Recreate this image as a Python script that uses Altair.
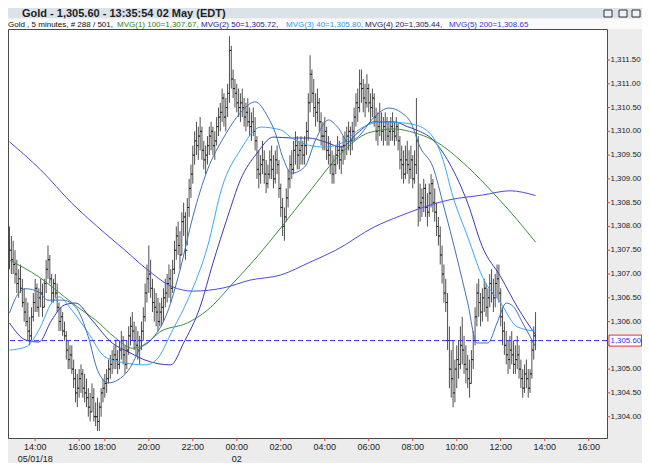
import altair as alt
import pandas as pd

# ---------------- data ----------------
bar_high = [1308.0,
    1307.8, 1307.7, 1307.5, 1307.3, 1307.1, 1307.2, 1306.9, 1306.7, 1306.5, 1306.4,
    1306.1, 1306.3, 1306.6, 1306.9, 1306.8, 1306.7, 1306.9, 1306.8, 1306.9, 1307.3,
    1307.6, 1307.4, 1307.0, 1306.9, 1307.0, 1306.8, 1306.4, 1306.3, 1306.2, 1306.0,
    1305.8, 1305.6, 1305.5, 1305.5, 1305.2, 1305.0, 1304.9, 1305.0, 1305.1, 1305.0,
    1304.9, 1304.8, 1304.6, 1304.5, 1304.7, 1304.6, 1304.3, 1304.4, 1304.3, 1304.6,
    1304.8, 1304.9, 1305.0, 1305.2, 1305.3, 1305.4, 1305.5, 1305.6, 1305.4, 1305.6,
    1305.8, 1305.7, 1305.5, 1305.6, 1305.9, 1306.1, 1306.2, 1306.0, 1305.9, 1305.8,
    1305.7, 1306.0, 1306.3, 1306.8, 1307.2, 1307.6, 1307.3, 1306.9, 1306.7, 1306.6,
    1306.5, 1306.4, 1306.5, 1306.7, 1306.9, 1307.0, 1307.2, 1307.1, 1307.3, 1307.7,
    1308.0, 1308.1, 1307.9, 1308.3, 1308.5, 1308.3, 1308.6, 1309.0, 1309.3, 1309.7,
    1310.0, 1310.2, 1310.1, 1310.3, 1310.1, 1309.8, 1309.7, 1309.9, 1310.1, 1310.2,
    1310.1, 1310.0, 1310.3, 1310.5, 1310.6, 1310.9, 1310.8, 1310.7, 1311.0, 1312.0,
    1311.8, 1311.3, 1311.1, 1311.0, 1310.9, 1310.8, 1310.9, 1310.7, 1310.6, 1310.7,
    1310.5, 1310.4, 1310.5, 1310.3, 1309.9, 1309.6, 1309.5, 1309.8, 1309.6, 1309.4,
    1309.3, 1309.6, 1309.7, 1309.5, 1309.6, 1309.7, 1309.4, 1308.9, 1308.6, 1308.4,
    1308.8, 1309.2, 1309.5, 1309.6, 1309.8, 1310.0, 1309.9, 1309.8, 1309.9, 1309.8,
    1309.9, 1310.2, 1310.8, 1311.6, 1311.3, 1311.1, 1310.8, 1310.9, 1310.7, 1310.4,
    1310.2, 1310.3, 1310.1, 1309.9, 1309.8, 1309.6, 1309.5, 1309.7, 1309.9, 1309.8,
    1309.7, 1309.9, 1310.0, 1310.1, 1310.2, 1310.1, 1310.2, 1310.5, 1310.8, 1310.9,
    1311.3, 1311.3, 1311.1, 1311.0, 1311.2, 1311.0, 1310.8, 1310.9, 1310.8, 1310.5,
    1310.4, 1310.6, 1310.4, 1310.3, 1310.4, 1310.3, 1310.2, 1310.3, 1310.4, 1310.2,
    1310.3, 1310.2, 1309.9, 1309.7, 1309.6, 1309.7, 1309.8, 1309.6, 1309.7, 1309.5,
    1309.6, 1310.7, 1309.9, 1308.9, 1308.8, 1309.0, 1308.9, 1308.7, 1308.9, 1309.1,
    1309.0, 1308.8, 1308.5, 1308.2, 1308.0, 1307.6, 1307.2, 1306.9, 1306.6, 1305.9,
    1305.4, 1305.6, 1305.2, 1305.5, 1305.6, 1305.9, 1306.1, 1305.7, 1305.5, 1305.3,
    1305.2, 1305.4, 1305.8, 1306.3, 1306.8, 1306.9, 1306.6, 1306.7, 1306.9, 1306.8,
    1306.7, 1307.0, 1307.1, 1306.9, 1307.0, 1307.2, 1307.2, 1306.7, 1306.3, 1306.0,
    1305.8, 1305.6, 1305.7, 1305.8, 1305.6, 1305.5, 1305.7, 1305.5, 1305.2, 1305.0,
    1305.1, 1305.2, 1305.0, 1305.0, 1305.6, 1305.9, 1306.2]

bar_low = [1307.1,
    1307.0, 1307.0, 1306.8, 1306.6, 1306.5, 1306.6, 1306.3, 1306.0, 1305.9, 1305.6,
    1305.5, 1305.6, 1306.0, 1306.2, 1306.2, 1306.1, 1306.3, 1306.1, 1306.3, 1306.6,
    1306.9, 1306.8, 1306.4, 1306.4, 1306.5, 1306.2, 1305.8, 1305.8, 1305.7, 1305.6,
    1305.2, 1305.0, 1305.0, 1304.9, 1304.6, 1304.3, 1304.2, 1304.4, 1304.5, 1304.4,
    1304.3, 1304.2, 1304.0, 1303.9, 1304.1, 1303.9, 1303.8, 1303.7, 1303.7, 1304.0,
    1304.3, 1304.4, 1304.5, 1304.7, 1304.8, 1304.9, 1305.0, 1305.0, 1304.9, 1305.0,
    1305.2, 1305.1, 1304.9, 1305.0, 1305.3, 1305.5, 1305.6, 1305.4, 1305.3, 1305.2,
    1305.1, 1305.4, 1305.6, 1306.0, 1306.4, 1306.6, 1306.5, 1306.2, 1306.0, 1305.9,
    1305.8, 1305.9, 1305.9, 1306.0, 1306.3, 1306.4, 1306.5, 1306.4, 1306.6, 1307.0,
    1307.3, 1307.4, 1307.1, 1307.4, 1307.8, 1307.3, 1307.6, 1308.2, 1308.6, 1308.9,
    1309.3, 1309.5, 1309.4, 1309.6, 1309.4, 1309.2, 1309.1, 1309.3, 1309.5, 1309.6,
    1309.5, 1309.4, 1309.7, 1309.9, 1310.0, 1310.2, 1310.1, 1310.0, 1310.3, 1310.6,
    1310.9, 1310.7, 1310.5, 1310.4, 1310.3, 1310.2, 1310.3, 1310.1, 1310.0, 1310.1,
    1309.9, 1309.8, 1309.9, 1309.6, 1309.0, 1308.8, 1308.9, 1309.1, 1308.9, 1308.7,
    1308.8, 1309.0, 1309.0, 1308.8, 1308.9, 1309.1, 1308.6, 1308.2, 1307.8, 1307.7,
    1308.1, 1308.4, 1308.8, 1309.0, 1309.1, 1309.3, 1309.2, 1309.2, 1309.3, 1309.3,
    1309.3, 1309.5, 1309.8, 1310.4, 1310.6, 1310.3, 1310.1, 1310.2, 1310.0, 1309.7,
    1309.6, 1309.6, 1309.4, 1309.3, 1309.1, 1308.9, 1308.9, 1309.1, 1309.3, 1309.2,
    1309.1, 1309.3, 1309.4, 1309.5, 1309.6, 1309.5, 1309.6, 1309.8, 1310.1, 1310.2,
    1310.4, 1310.6, 1310.4, 1310.3, 1310.5, 1310.4, 1310.2, 1310.3, 1310.1, 1309.8,
    1309.7, 1309.9, 1309.8, 1309.7, 1309.8, 1309.7, 1309.7, 1309.8, 1309.8, 1309.7,
    1309.8, 1309.6, 1309.2, 1309.0, 1308.9, 1309.0, 1309.1, 1308.9, 1309.0, 1308.8,
    1308.9, 1309.1, 1308.0, 1308.1, 1308.2, 1308.3, 1308.2, 1308.0, 1308.2, 1308.4,
    1308.3, 1308.1, 1307.8, 1307.6, 1307.2, 1306.8, 1306.4, 1306.2, 1305.4, 1304.6,
    1304.4, 1304.2, 1304.3, 1304.6, 1304.8, 1305.0, 1305.1, 1304.9, 1304.7, 1304.6,
    1304.4, 1304.7, 1305.0, 1305.5, 1305.9, 1306.1, 1305.9, 1306.0, 1306.2, 1306.1,
    1306.0, 1306.3, 1306.4, 1306.2, 1306.3, 1306.5, 1306.4, 1305.9, 1305.5, 1305.3,
    1305.1, 1304.9, 1305.0, 1305.1, 1304.9, 1304.9, 1305.0, 1304.8, 1304.6, 1304.4,
    1304.5, 1304.6, 1304.4, 1304.5, 1304.8, 1305.2, 1305.4]

bar_close = [1307.5,
    1307.3, 1307.2, 1307.0, 1306.8, 1306.9, 1306.7, 1306.4, 1306.2, 1306.0, 1305.8,
    1305.7, 1306.1, 1306.4, 1306.7, 1306.3, 1306.5, 1306.6, 1306.3, 1306.8, 1307.1,
    1307.3, 1306.9, 1306.6, 1306.8, 1306.6, 1306.3, 1306.0, 1306.1, 1305.8, 1305.7,
    1305.4, 1305.2, 1305.3, 1305.0, 1304.8, 1304.5, 1304.6, 1304.8, 1304.9, 1304.6,
    1304.5, 1304.4, 1304.2, 1304.1, 1304.4, 1304.0, 1304.0, 1303.9, 1304.2, 1304.5,
    1304.6, 1304.7, 1304.8, 1305.0, 1305.1, 1305.2, 1305.3, 1305.2, 1305.1, 1305.4,
    1305.6, 1305.3, 1305.1, 1305.4, 1305.7, 1305.9, 1305.8, 1305.6, 1305.5, 1305.4,
    1305.6, 1305.8, 1306.1, 1306.6, 1306.9, 1307.0, 1306.7, 1306.4, 1306.3, 1306.2,
    1306.0, 1306.2, 1306.3, 1306.5, 1306.6, 1306.8, 1306.9, 1306.7, 1307.1, 1307.5,
    1307.8, 1307.6, 1307.4, 1308.1, 1308.2, 1307.5, 1308.4, 1308.8, 1309.1, 1309.5,
    1309.8, 1309.7, 1309.9, 1310.0, 1309.6, 1309.4, 1309.5, 1309.7, 1309.9, 1310.0,
    1309.7, 1309.8, 1310.1, 1310.3, 1310.4, 1310.7, 1310.3, 1310.5, 1310.8, 1311.7,
    1311.1, 1310.9, 1310.8, 1310.6, 1310.5, 1310.6, 1310.5, 1310.3, 1310.4, 1310.2,
    1310.1, 1310.2, 1310.0, 1309.8, 1309.2, 1309.1, 1309.3, 1309.4, 1309.1, 1308.9,
    1309.1, 1309.4, 1309.2, 1309.0, 1309.4, 1309.3, 1308.8, 1308.4, 1308.0, 1308.2,
    1308.6, 1309.0, 1309.3, 1309.2, 1309.6, 1309.7, 1309.5, 1309.6, 1309.7, 1309.5,
    1309.7, 1310.0, 1310.6, 1311.2, 1310.8, 1310.5, 1310.4, 1310.6, 1310.2, 1309.9,
    1309.9, 1310.0, 1309.6, 1309.5, 1309.3, 1309.1, 1309.3, 1309.5, 1309.6, 1309.4,
    1309.6, 1309.7, 1309.8, 1309.9, 1310.0, 1309.8, 1310.0, 1310.3, 1310.6, 1310.5,
    1311.0, 1310.9, 1310.7, 1310.6, 1310.9, 1310.6, 1310.5, 1310.7, 1310.3, 1310.0,
    1310.1, 1310.2, 1310.0, 1310.1, 1310.2, 1309.9, 1310.0, 1310.1, 1310.0, 1309.9,
    1310.1, 1309.8, 1309.4, 1309.3, 1309.1, 1309.4, 1309.3, 1309.2, 1309.4, 1309.0,
    1309.3, 1309.8, 1308.4, 1308.5, 1308.6, 1308.8, 1308.4, 1308.3, 1308.7, 1308.9,
    1308.5, 1308.3, 1308.0, 1307.8, 1307.4, 1307.0, 1306.6, 1306.4, 1305.6, 1305.0,
    1304.8, 1304.5, 1305.0, 1305.2, 1305.1, 1305.5, 1305.4, 1305.1, 1305.0, 1304.8,
    1304.7, 1305.2, 1305.6, 1306.1, 1306.6, 1306.4, 1306.2, 1306.5, 1306.7, 1306.3,
    1306.5, 1306.8, 1306.6, 1306.5, 1306.8, 1306.9, 1306.6, 1306.1, 1305.8, 1305.5,
    1305.3, 1305.2, 1305.4, 1305.3, 1305.1, 1305.2, 1305.3, 1305.0, 1304.8, 1304.6,
    1304.9, 1304.8, 1304.6, 1304.9, 1305.4, 1305.7, 1305.6]

# moving averages (bar index, value)
ma_names = ["MVG(1) 100", "MVG(2) 50", "MVG(3) 40", "MVG(4) 20", "MVG(5) 200"]
ma100_idx = [0, 16, 30, 37, 47, 58, 67, 74, 82, 97, 108, 122, 135, 148, 163, 181, 196, 210, 221, 231, 250, 264, 277, 287]
ma100_val = [1307.29, 1306.94, 1306.52, 1306.31, 1306.03, 1305.65, 1305.44, 1305.51, 1305.78, 1305.97, 1306.24, 1306.81,
             1307.36, 1307.97, 1308.70, 1309.54, 1309.97, 1310.05, 1309.97, 1309.82, 1309.25, 1308.70, 1308.14, 1307.67]
ma50_idx = [0, 9, 16, 23, 30, 36, 45, 56, 65, 74, 88, 95, 104, 111, 119, 126, 135, 144, 154, 163, 172, 181, 190, 199,
            210, 217, 222, 231, 240, 250, 258, 268, 277, 287]
ma50_val = [1305.97, 1305.61, 1305.57, 1306.03, 1306.35, 1306.39, 1306.03, 1305.55, 1305.36, 1305.19, 1305.09, 1305.55,
            1306.31, 1307.23, 1308.20, 1308.98, 1309.54, 1309.88, 1309.86, 1309.86, 1309.78, 1309.67, 1309.97, 1310.20,
            1310.20, 1310.10, 1310.03, 1309.82, 1309.33, 1308.49, 1307.57, 1306.94, 1306.31, 1305.72]
ma40_idx = [0, 9, 16, 23, 27, 34, 43, 52, 63, 74, 80, 89, 98, 108, 116, 126, 137, 148, 154, 163, 172, 181, 192, 203,
            214, 222, 231, 236, 242, 250, 258, 268, 277, 287]
ma40_val = [1305.40, 1305.47, 1305.82, 1306.39, 1306.52, 1306.24, 1305.76, 1305.26, 1305.13, 1305.09, 1305.19, 1305.82,
            1306.52, 1307.57, 1308.83, 1309.61, 1310.09, 1310.03, 1309.86, 1309.71, 1309.67, 1309.75, 1310.07, 1310.20,
            1310.18, 1310.13, 1309.88, 1309.46, 1308.62, 1307.78, 1306.94, 1306.39, 1305.89, 1305.80]
ma20_idx = [0, 5, 9, 16, 21, 29, 36, 43, 48, 54, 59, 65, 72, 77, 86, 93, 100, 108, 117, 126, 134, 141, 145, 149, 154,
            161, 167, 174, 179, 185, 190, 199, 207, 214, 219, 224, 231, 237, 244, 250, 255, 261, 266, 271, 275, 280, 287]
ma20_val = [1306.18, 1306.60, 1306.69, 1306.62, 1306.45, 1306.45, 1306.31, 1305.68, 1304.98, 1304.71, 1304.77, 1304.98,
            1305.47, 1305.61, 1306.18, 1307.08, 1308.20, 1309.19, 1309.88, 1310.39, 1310.62, 1310.30, 1309.97, 1309.46,
            1309.12, 1309.25, 1309.82, 1310.24, 1310.09, 1309.78, 1309.88, 1310.30, 1310.49, 1310.39, 1310.18, 1309.67,
            1309.25, 1308.41, 1307.36, 1306.39, 1305.55, 1305.55, 1305.97, 1306.39, 1306.31, 1305.97, 1305.47]
ma200_idx = [0, 17, 34, 52, 63, 74, 89, 100, 117, 131, 148, 164, 178, 199, 213, 240, 258, 273, 287]
ma200_val = [1309.78, 1309.19, 1308.49, 1307.86, 1307.50, 1307.13, 1306.73, 1306.64, 1306.71, 1306.87, 1306.98,
             1307.25, 1307.50, 1307.99, 1308.22, 1308.56, 1308.66, 1308.75, 1308.65]

x_tick_idx = [14, 38, 52, 76, 100, 124, 148, 172, 196, 220, 244, 268, 292, 316]
x_tick_lab = ["14:00", "16:00", "18:00", "20:00", "22:00", "00:00", "02:00", "04:00", "06:00",
              "08:00", "10:00", "12:00", "14:00", "16:00"]
date_idx = [14, 124]
date_lab = ["05/01/18", "02"]
y_tick_vals = [1304.0, 1304.5, 1305.0, 1305.5, 1306.0, 1306.5, 1307.0, 1307.5, 1308.0,
               1308.5, 1309.0, 1309.5, 1310.0, 1310.5, 1311.0, 1311.5]
last_price = 1305.60

title_text = "Gold - 1,305.60 - 13:35:54  02 May (EDT)"
info_texts = ["Gold , 5 minutes, # 288 / 501,", "MVG(1) 100=1,307.67,", "MVG(2) 50=1,305.72,",
              "MVG(3) 40=1,305.80,", "MVG(4) 20=1,305.44,", "MVG(5) 200=1,308.65"]

# ---------------- styling ----------------
FONT = "Liberation Sans"
ma_colors = ["#3a8f3a", "#3a3ab2", "#3aa8f8", "#4172b2", "#4a4ae6"]
info_colors = ["#111111", "#2b8a2b", "#23239a", "#2f9bf5", "#24245e", "#3636d8"]
info_x = [0, 109, 193, 278, 357, 441]
W, H = 599, 409
XS = alt.Scale(domain=[-0.82, 325.98], nice=False, zero=False)
YS = alt.Scale(domain=[1303.552, 1312.152], nice=False, zero=False)
RED = "#e8413c"
TXT = "#222222"

df_bars = pd.DataFrame({"i": list(range(len(bar_high))), "high": bar_high,
                        "low": bar_low, "close": bar_close})

ma_frames = []
for name, idx, val in zip(ma_names,
                          [ma100_idx, ma50_idx, ma40_idx, ma20_idx, ma200_idx],
                          [ma100_val, ma50_val, ma40_val, ma20_val, ma200_val]):
    ma_frames.append(pd.DataFrame({"i": idx, "v": val, "ma": name}))
df_ma = pd.concat(ma_frames, ignore_index=True)

df_dates = pd.DataFrame({"i": date_idx, "lab": date_lab})
df_xt = pd.DataFrame({"i": x_tick_idx, "lab": x_tick_lab})
df_yt = pd.DataFrame({"v": y_tick_vals})

one = alt.Data(values=[{}])


def X(field):
    return alt.X(field, scale=XS, axis=None)


def Y(field):
    return alt.Y(field, scale=YS, axis=None)


def deco_rect(x, x2, y, y2, **kw):
    return alt.Chart(one).mark_rect(**kw).encode(
        x=alt.value(x), x2=alt.value(x2), y=alt.value(y), y2=alt.value(y2))


def deco_text(txt, x, y, **kw):
    return alt.Chart(one).mark_text(**kw).encode(
        x=alt.value(x), y=alt.value(y), text=alt.value(txt))


# OHLC bars
bars = alt.Chart(df_bars).mark_rule(color="#4f4f4f", strokeWidth=1).encode(
    x=X("i:Q"), y=Y("low:Q"), y2="high:Q")

close_ticks = alt.Chart(df_bars).transform_calculate(ir="datum.i + 0.6").mark_rule(
    color="#111111", strokeWidth=1).encode(x=X("i:Q"), x2="ir:Q", y=Y("close:Q"))

open_ticks = alt.Chart(df_bars).transform_window(
    window=[alt.WindowFieldDef(op="lag", field="close", **{"as": "open"})],
    sort=[alt.SortField("i")],
).transform_filter("datum.open != null").transform_calculate(il="datum.i - 0.6").mark_rule(
    color="#111111", strokeWidth=1).encode(x=X("il:Q"), x2="i:Q", y=Y("open:Q"))

# moving averages
ma_lines = alt.Chart(df_ma).mark_line(strokeWidth=1, interpolate="monotone").encode(
    x=X("i:Q"), y=Y("v:Q"),
    color=alt.Color("ma:N", scale=alt.Scale(domain=ma_names, range=ma_colors), legend=None),
    detail="ma:N",
)

# last price line
last_line = alt.Chart(one).mark_rule(color="#2f2fff", strokeDash=[5, 3], strokeWidth=1).encode(
    y=alt.YDatum(last_price, scale=YS, axis=None))

# axes drawn from the tick lists through the shared scales
y_ticks = alt.Chart(df_yt).mark_rule(color=RED, strokeWidth=1).encode(
    x=alt.value(W), x2=alt.value(W + 3), y=Y("v:Q"))
y_labels = alt.Chart(df_yt).transform_filter(
    f"abs(datum.v - {last_price}) > 0.2"
).mark_text(align="left", baseline="middle", font=FONT, fontSize=7.9, color=TXT).encode(
    x=alt.value(W + 3.5), y=Y("v:Q"), text=alt.Text("v:Q", format=",.2f"))
x_ticks = alt.Chart(df_xt).mark_rule(color=RED, strokeWidth=1).encode(
    x=X("i:Q"), y=alt.value(H), y2=alt.value(H + 3))
x_labels = alt.Chart(df_xt).mark_text(baseline="middle", font=FONT, fontSize=9,
                                      color=TXT).encode(
    x=X("i:Q"), y=alt.value(H + 8.5), text="lab:N")
date_text = alt.Chart(df_dates).mark_text(baseline="middle", font=FONT, fontSize=9,
                                          color=TXT).encode(
    x=X("i:Q"), y=alt.value(H + 20.5), text="lab:N")

price_box = alt.Chart(one).mark_rect(height=11, fill="white", stroke="#e83030", strokeWidth=1).encode(
    x=alt.value(601), x2=alt.value(633.5), y=alt.YDatum(last_price, scale=YS, axis=None))
price_text = alt.Chart(one).mark_text(align="left", baseline="middle", font=FONT, fontSize=7.9,
                                      color="#2f2fff").encode(
    x=alt.value(W + 3.5), y=alt.YDatum(last_price, scale=YS, axis=None),
    text=alt.value(f"{last_price:,.2f}"))

# window chrome
title_bar = deco_rect(0, 634, -21, -10.5, fill="#dbe2ea")
info_bar = deco_rect(0, 634, -10.5, 0, fill="#fafafa")
btn1 = deco_rect(596, 604, -19, -12, fill="#eef1f5", stroke="#333333", strokeWidth=1)
btn2 = deco_rect(611, 619, -19, -12, fill="#eef1f5", stroke="#333333", strokeWidth=1)
btn3 = deco_rect(624, 632, -19, -12, fill="#eef1f5", stroke="#333333", strokeWidth=1)

title = deco_text(title_text, 14, -12, align="left", baseline="alphabetic", font=FONT,
                  fontSize=11, fontWeight="bold", color="#1e1e1e")
info_layers = [deco_text(t, px, -2.5, align="left", baseline="alphabetic", font=FONT,
                         fontSize=8.0, color=c)
               for t, px, c in zip(info_texts, info_x, info_colors)]

chart = alt.layer(
    bars, open_ticks, close_ticks, ma_lines, last_line,
    y_ticks, y_labels, x_ticks, x_labels, date_text, price_box, price_text,
    title_bar, info_bar, btn1, btn2, btn3, title, *info_layers,
).properties(
    width=W, height=H,
    autosize=alt.AutoSizeParams(type="none"),
    padding={"left": 0, "top": 21, "right": 35, "bottom": 25},
    background="#ececec",
).configure_view(fill="white", stroke="#4a4a4a", strokeWidth=1)

chart.save("out.html", embed_options={"renderer": "svg", "actions": False})
